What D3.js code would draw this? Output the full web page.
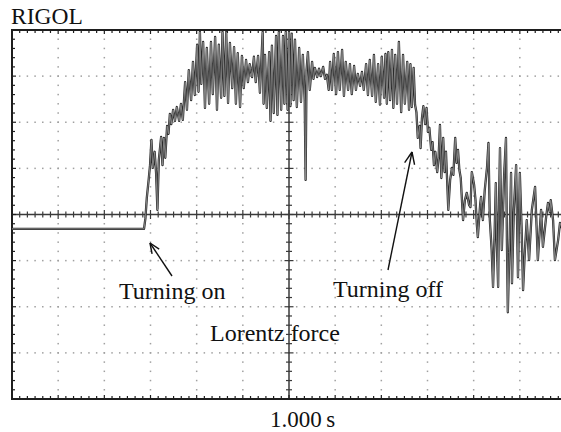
<!DOCTYPE html>
<html>
<head>
<meta charset="utf-8">
<script src="https://cdn.jsdelivr.net/npm/d3@7"></script>
<style>
  html, body { margin: 0; padding: 0; background: #fff; }
  svg { display: block; }
  text { font-family: "Liberation Serif", "Times New Roman", serif; fill: #111; }
</style>
</head>
<body>
<script>
// Captured trace: time from left edge of screen (s, 1 s/div), level in divisions from centre
const timeS = [
  0, 2.86, 2.89, 2.92, 2.96, 2.99, 3.02, 3.05, 3.09, 3.12, 3.15, 3.18, 3.23, 3.26, 3.29, 3.32,
  3.36, 3.39, 3.42, 3.45, 3.49, 3.53, 3.57, 3.62, 3.66, 3.70, 3.75, 3.79, 3.83, 3.88, 3.92, 3.96,
  4.01, 4.04, 4.07, 4.10, 4.14, 4.18, 4.22, 4.27, 4.31, 4.35, 4.40, 4.44, 4.48, 4.53, 4.56, 4.60,
  4.64, 4.68, 4.72, 4.77, 4.81, 4.85, 4.89, 4.94, 4.98, 5.02, 5.07, 5.11, 5.15, 5.20, 5.24, 5.28,
  5.33, 5.37, 5.43, 5.45, 5.48, 5.52, 5.57, 5.60, 5.63, 5.67, 5.72, 5.75, 5.78, 5.83, 5.87, 5.90,
  5.93, 5.97, 6.00, 6.03, 6.06, 6.10, 6.13, 6.17, 6.22, 6.26, 6.30, 6.34, 6.36, 6.38, 6.41, 6.45,
  6.50, 6.53, 6.56, 6.61, 6.65, 6.69, 6.74, 6.78, 6.82, 6.86, 6.89, 6.93, 6.97, 7.02, 7.06, 7.10,
  7.15, 7.19, 7.23, 7.28, 7.32, 7.36, 7.41, 7.45, 7.49, 7.54, 7.58, 7.62, 7.67, 7.71, 7.75, 7.80,
  7.84, 7.88, 7.93, 7.97, 8.01, 8.06, 8.09, 8.12, 8.15, 8.19, 8.23, 8.26, 8.30, 8.34, 8.38, 8.43,
  8.47, 8.51, 8.56, 8.60, 8.63, 8.66, 8.70, 8.73, 8.76, 8.79, 8.83, 8.85, 8.88, 8.91, 8.95, 8.98,
  9.01, 9.04, 9.08, 9.11, 9.14, 9.17, 9.21, 9.24, 9.27, 9.30, 9.34, 9.37, 9.40, 9.43, 9.45, 9.49,
  9.53, 9.56, 9.60, 9.63, 9.66, 9.69, 9.72, 9.77, 9.81, 9.85, 9.90, 9.93, 9.96, 10.01, 10.04, 10.07,
  10.09, 10.14, 10.16, 10.20, 10.24, 10.29, 10.32, 10.35, 10.39, 10.42, 10.45, 10.48, 10.50, 10.53, 10.55, 10.57,
  10.61, 10.66, 10.70, 10.72, 10.74, 10.78, 10.81, 10.83, 10.87, 10.92, 10.96, 11.00, 11.04, 11.07, 11.11, 11.15,
  11.20, 11.26, 11.33, 11.39, 11.46, 11.50, 11.57, 11.61, 11.65, 11.67, 11.72, 11.76, 11.83, 11.87, 11.93
];
const levelDiv = [
  -0.31, -0.31, -0.08, 0.36, 0.75, 1.07, 1.62, 1.01, 1.36, 0.92, 0.10, 1.18, 1.68, 1.07, 1.66, 1.23,
  1.92, 1.75, 2.18, 1.96, 2.27, 2.03, 2.33, 2.03, 2.40, 2.05, 2.87, 2.27, 3.13, 2.48, 3.31, 2.59,
  3.68, 2.66, 3.96, 2.83, 3.74, 2.31, 3.61, 2.40, 3.74, 2.61, 3.85, 2.27, 3.68, 2.53, 3.96, 2.57,
  3.96, 2.42, 3.72, 2.74, 3.63, 2.40, 3.50, 2.33, 3.44, 2.74, 3.35, 2.87, 3.26, 2.98, 3.42, 2.87,
  3.44, 2.64, 3.96, 2.40, 3.46, 2.31, 3.52, 2.03, 3.66, 2.20, 3.87, 2.16, 3.96, 2.27, 3.87, 2.40,
  3.96, 2.27, 3.96, 2.35, 3.92, 2.48, 3.79, 2.33, 3.61, 2.44, 3.46, 2.48, 0.75, 3.13, 3.52, 2.70,
  3.31, 2.94, 3.18, 2.98, 3.16, 3.00, 3.20, 2.94, 3.03, 2.70, 3.31, 2.70, 3.48, 2.61, 3.52, 2.70,
  3.57, 2.57, 3.31, 2.70, 3.26, 2.61, 3.22, 2.70, 3.05, 2.79, 3.09, 2.70, 3.26, 2.59, 3.35, 2.57,
  3.46, 2.44, 3.26, 2.38, 3.42, 2.53, 3.48, 2.40, 3.52, 2.48, 3.57, 2.31, 3.46, 2.40, 3.74, 2.22,
  3.46, 2.40, 3.31, 2.27, 3.26, 2.33, 3.18, 2.38, 2.22, 1.66, 1.92, 1.44, 2.09, 2.35, 1.96, 2.31,
  1.79, 1.88, 1.40, 1.57, 1.07, 1.36, 0.92, 1.23, 1.94, 0.79, 1.66, 0.92, 1.36, 0.62, 0.10, 0.75,
  1.01, 0.86, 1.66, 1.12, 1.40, 0.97, 0.79, -0.12, 0.31, 0.47, 0.21, 0.16, 0.92, 0.64, 0.31, -0.23,
  -0.49, 0.21, 0.38, -0.12, 0.53, 1.03, 1.55, -0.12, -0.77, -1.57, -0.55, 0.68, -0.55, -1.57, 0.31, 1.44,
  -0.77, 0.86, 1.66, -0.55, -2.12, -0.55, 0.90, -1.49, 0.10, 1.07, -1.36, 0.90, -0.34, -1.64, -0.77, -0.12,
  -0.99, 0.10, 0.60, -0.99, 0.10, -0.70, -0.05, 0.25, 0.05, 0.31, -0.12, -0.99, -0.55, -0.18, -0.34
];
const timebaseLabel = "1.000\u2009s";
const brandLabel = "RIGOL";
const noteLabels = ["Turning on", "Turning off", "Lorentz force"];

const W = 561, H = 432;
const svg = d3.select("body").append("svg").attr("width", W).attr("height", H);

// 12 x 8 division screen; right edge runs slightly past the window
const x = d3.scaleLinear().domain([0, 12]).range([12, 566]);
const y = d3.scaleLinear().domain([-4, 4]).range([399, 30]);

const majorX = d3.range(0, 13);
const majorY = d3.range(-4, 5);
const minorX = d3.range(0, 72 + 1).map(i => i / 6);   // 6 sub-steps per horizontal division
const minorY = d3.range(0, 40 + 1).map(i => -4 + i / 5); // 5 sub-steps per vertical division

const grid = svg.append("g");

// dotted graticule
majorX.filter(d => d > 0 && d < 12 && d !== 6).forEach(d => {
  grid.selectAll(null).data(minorY.slice(1, -1)).join("rect")
    .attr("x", x(d) - 0.75).attr("y", v => y(v) - 0.75)
    .attr("width", 1.5).attr("height", 1.5).attr("fill", "#a0a0a0");
});
majorY.filter(d => d > -4 && d < 4 && d !== 0).forEach(d => {
  grid.selectAll(null).data(minorX.slice(1, -1)).join("rect")
    .attr("x", t => x(t) - 0.75).attr("y", y(d) - 0.75)
    .attr("width", 1.5).attr("height", 1.5).attr("fill", "#a0a0a0");
});

// centre axes with ticks
const axisCol = "#3a3a3a";
grid.append("line").attr("x1", x(0)).attr("x2", x(12)).attr("y1", y(0)).attr("y2", y(0))
  .attr("stroke", axisCol).attr("stroke-width", 1.5);
grid.append("line").attr("x1", x(6)).attr("x2", x(6)).attr("y1", y(4)).attr("y2", y(-4))
  .attr("stroke", axisCol).attr("stroke-width", 1.5);
const isMajor = v => Math.abs(v - Math.round(v)) < 1e-6;
grid.selectAll(null).data(minorX).join("line")
  .attr("x1", t => x(t)).attr("x2", t => x(t))
  .attr("y1", t => y(0) - (isMajor(t) ? 4.5 : 3)).attr("y2", t => y(0) + (isMajor(t) ? 4.5 : 3))
  .attr("stroke", axisCol).attr("stroke-width", 1.2);
grid.selectAll(null).data(minorY).join("line")
  .attr("y1", v => y(v)).attr("y2", v => y(v))
  .attr("x1", v => x(6) - (isMajor(v) ? 4.5 : 3)).attr("x2", v => x(6) + (isMajor(v) ? 4.5 : 3))
  .attr("stroke", axisCol).attr("stroke-width", 1.2);

// border ticks
const borderCol = "#1e1e1e";
grid.selectAll(null).data(minorX).join("line")
  .attr("x1", t => x(t)).attr("x2", t => x(t))
  .attr("y1", y(4)).attr("y2", t => y(4) + (isMajor(t) ? 4 : 3))
  .attr("stroke", borderCol).attr("stroke-width", 1.2);
grid.selectAll(null).data(minorX).join("line")
  .attr("x1", t => x(t)).attr("x2", t => x(t))
  .attr("y1", y(-4)).attr("y2", t => y(-4) - (isMajor(t) ? 4 : 3))
  .attr("stroke", borderCol).attr("stroke-width", 1.2);
grid.selectAll(null).data(minorY).join("line")
  .attr("y1", v => y(v)).attr("y2", v => y(v))
  .attr("x1", x(0)).attr("x2", v => x(0) + (isMajor(v) ? 4 : 3))
  .attr("stroke", borderCol).attr("stroke-width", 1.2);

// screen frame
grid.append("rect").attr("x", x(0)).attr("y", y(4))
  .attr("width", x(12) - x(0)).attr("height", y(-4) - y(4))
  .attr("fill", "none").attr("stroke", borderCol).attr("stroke-width", 2);

// labels
svg.append("text").attr("x", 11).attr("y", 24).attr("font-size", 23.5).text(brandLabel);
svg.append("text").attr("x", 270).attr("y", 427).attr("font-size", 23).text(timebaseLabel);
svg.append("text").attr("x", 119).attr("y", 299).attr("font-size", 24).text(noteLabels[0]);
svg.append("text").attr("x", 333).attr("y", 297).attr("font-size", 24).text(noteLabels[1]);
svg.append("text").attr("x", 210).attr("y", 341).attr("font-size", 24).text(noteLabels[2]);

// trace
svg.append("clipPath").attr("id", "screen").append("rect")
  .attr("x", x(0)).attr("y", y(4)).attr("width", x(12) - x(0)).attr("height", y(-4) - y(4));
const pts = timeS.map((t, i) => [t, levelDiv[i]]);
const line = d3.line().x(d => x(d[0])).y(d => y(d[1]));
const trace = svg.append("g").attr("clip-path", "url(#screen)");
trace.append("path").attr("d", line(pts)).attr("fill", "none")
  .attr("stroke", "#2a2a2a").attr("stroke-width", 2.3).attr("stroke-linejoin", "round");
trace.append("path").attr("d", line(pts)).attr("fill", "none")
  .attr("stroke", "#8c8c8c").attr("stroke-width", 0.9).attr("stroke-linejoin", "round");

// centre vertical axis stays on top of the label it crosses
grid.raise();
svg.selectAll("text").raise();
svg.select("g[clip-path]").raise();

// annotation arrows (tail -> head)
function arrow(x1, y1, x2, y2, len) {
  const g = svg.append("g").attr("stroke", "#111").attr("stroke-width", 1.4).attr("fill", "none");
  g.append("line").attr("x1", x1).attr("y1", y1).attr("x2", x2).attr("y2", y2);
  const a = Math.atan2(y2 - y1, x2 - x1);
  [0.4, -0.4].forEach(s => {
    g.append("line").attr("x1", x2).attr("y1", y2)
      .attr("x2", x2 - len * Math.cos(a + s)).attr("y2", y2 - len * Math.sin(a + s));
  });
}
arrow(172, 276, 150, 243, 11);
arrow(388, 270, 412, 152, 13);
</script>
</body>
</html>
